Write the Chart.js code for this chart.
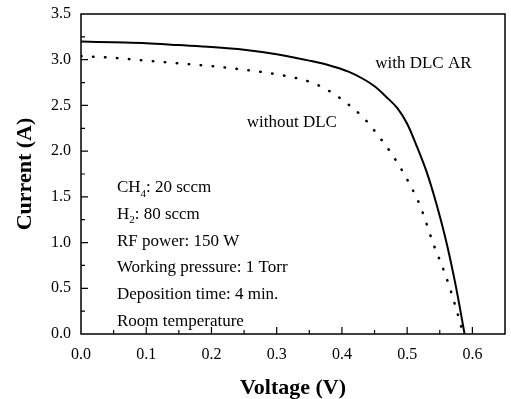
<!DOCTYPE html>
<html>
<head>
<meta charset="utf-8">
<script src="https://cdn.jsdelivr.net/npm/chart.js@4/dist/chart.umd.min.js"></script>
<style>
  html, body { margin: 0; padding: 0; background: #fff; }
  #wrap { width: 511px; height: 399px; }
</style>
</head>
<body>
<div id="wrap"><canvas id="chart"></canvas></div>
<script>
// values
const voltWith = [0, 0.05, 0.1, 0.15, 0.2, 0.25, 0.3, 0.35, 0.38, 0.41, 0.43, 0.45, 0.47, 0.485, 0.5, 0.515, 0.53, 0.545, 0.56, 0.575, 0.588];
const currWith = [3.2, 3.19, 3.18, 3.16, 3.14, 3.11, 3.06, 2.99, 2.94, 2.87, 2.8, 2.71, 2.58, 2.47, 2.3, 2.05, 1.77, 1.42, 1.01, 0.51, 0];
const voltWithout = [0, 0.05, 0.1, 0.15, 0.2, 0.25, 0.3, 0.35, 0.38, 0.41, 0.435, 0.46, 0.48, 0.5, 0.52, 0.54, 0.56, 0.575, 0.586];
const currWithout = [3.04, 3.02, 2.99, 2.96, 2.93, 2.89, 2.84, 2.76, 2.66, 2.51, 2.35, 2.13, 1.93, 1.69, 1.4, 0.99, 0.62, 0.28, 0];
const xTicks = [0, 0.1, 0.2, 0.3, 0.4, 0.5, 0.6];
const yTicks = [0, 0.5, 1, 1.5, 2, 2.5, 3, 3.5];
const curveLabels = ["with DLC AR", "without DLC"];
const notes = ["CH|4|: 20 sccm", "H|2|: 80 sccm", "RF power: 150 W", "Working pressure: 1 Torr", "Deposition time: 4 min.", "Room temperature"];

const serif = "'Liberation Serif', 'DejaVu Serif', serif";
const pts = (xs, ys) => xs.map((v, i) => ({ x: v, y: ys[i] }));

// frame, inward ticks and text inside the plot
const framePlugin = {
  id: "frame",
  afterDatasetsDraw(chart) {
    const { ctx, chartArea: a, scales: { x, y } } = chart;
    ctx.save();
    ctx.strokeStyle = "#000";
    ctx.lineWidth = 1.5;
    ctx.strokeRect(a.left, a.top, a.right - a.left, a.bottom - a.top);
    ctx.lineWidth = 1.2;
    ctx.beginPath();
    for (let v = 0.05; v < 0.65; v += 0.05) {
      const px = x.getPixelForValue(v);
      const len = Math.round(v * 100) % 10 === 0 ? 7 : 4;
      ctx.moveTo(px, a.bottom); ctx.lineTo(px, a.bottom - len);
    }
    for (let v = 0.25; v < 3.5; v += 0.25) {
      const py = y.getPixelForValue(v);
      const len = Math.round(v * 100) % 50 === 0 ? 7 : 4;
      ctx.moveTo(a.left, py); ctx.lineTo(a.left + len, py);
    }
    ctx.stroke();

    ctx.fillStyle = "#000";
    ctx.textBaseline = "middle";
    ctx.font = "17px " + serif;
    ctx.fillText(curveLabels[0], x.getPixelForValue(0.451), y.getPixelForValue(2.96));
    ctx.fillText(curveLabels[1], x.getPixelForValue(0.254), y.getPixelForValue(2.31));

    // notes, subscripts sit between the bars
    notes.forEach((line, i) => {
      const py = y.getPixelForValue(1.6 - i * 0.292);
      let px = x.getPixelForValue(0.055);
      line.split("|").forEach((part, j) => {
        if (j === 1) {
          ctx.font = "11px " + serif;
          ctx.fillText(part, px, py + 6);
        } else {
          ctx.font = "17px " + serif;
          ctx.fillText(part, px, py);
        }
        px += ctx.measureText(part).width;
      });
    });
    ctx.restore();
  }
};

new Chart(document.getElementById("chart"), {
  type: "line",
  data: {
    datasets: [
      {
        label: curveLabels[0],
        data: pts(voltWith, currWith),
        borderColor: "#000",
        borderWidth: 2,
        pointRadius: 0,
        cubicInterpolationMode: "monotone"
      },
      {
        label: curveLabels[1],
        data: pts(voltWithout, currWithout),
        borderColor: "#000",
        borderWidth: 2.5,
        borderDash: [0.5, 11.5],
        borderCapStyle: "round",
        pointRadius: 0,
        cubicInterpolationMode: "monotone"
      }
    ]
  },
  options: {
    responsive: true,
    maintainAspectRatio: false,
    animation: false,
    layout: { padding: { top: 14, right: 6, left: 8, bottom: 0 } },
    plugins: { legend: { display: false }, tooltip: { enabled: false } },
    scales: {
      x: {
        type: "linear",
        min: 0, max: 0.65,
        grid: { display: false },
        border: { display: false },
        afterBuildTicks: s => { s.ticks = xTicks.map(v => ({ value: v })); },
        afterFit: s => { s.height = 65; },
        ticks: {
          color: "#000",
          padding: 3,
          font: { family: serif, size: 16 },
          callback: v => v.toFixed(1)
        },
        title: {
          display: true,
          text: "Voltage (V)",
          color: "#000",
          font: { family: serif, size: 22, weight: "bold", lineHeight: 0.8 },
          padding: { top: 8, bottom: 2 }
        }
      },
      y: {
        min: 0, max: 3.5,
        grid: { display: false },
        border: { display: false },
        afterBuildTicks: s => { s.ticks = yTicks.map(v => ({ value: v })); },
        afterFit: s => { s.width = 73; },
        ticks: {
          color: "#000",
          padding: 2,
          font: { family: serif, size: 16 },
          callback: v => v.toFixed(1)
        },
        title: {
          display: true,
          text: "Current (A)",
          color: "#000",
          font: { family: serif, size: 22, weight: "bold" },
          padding: { bottom: 4 }
        }
      }
    }
  },
  plugins: [framePlugin]
});
</script>
</body>
</html>
